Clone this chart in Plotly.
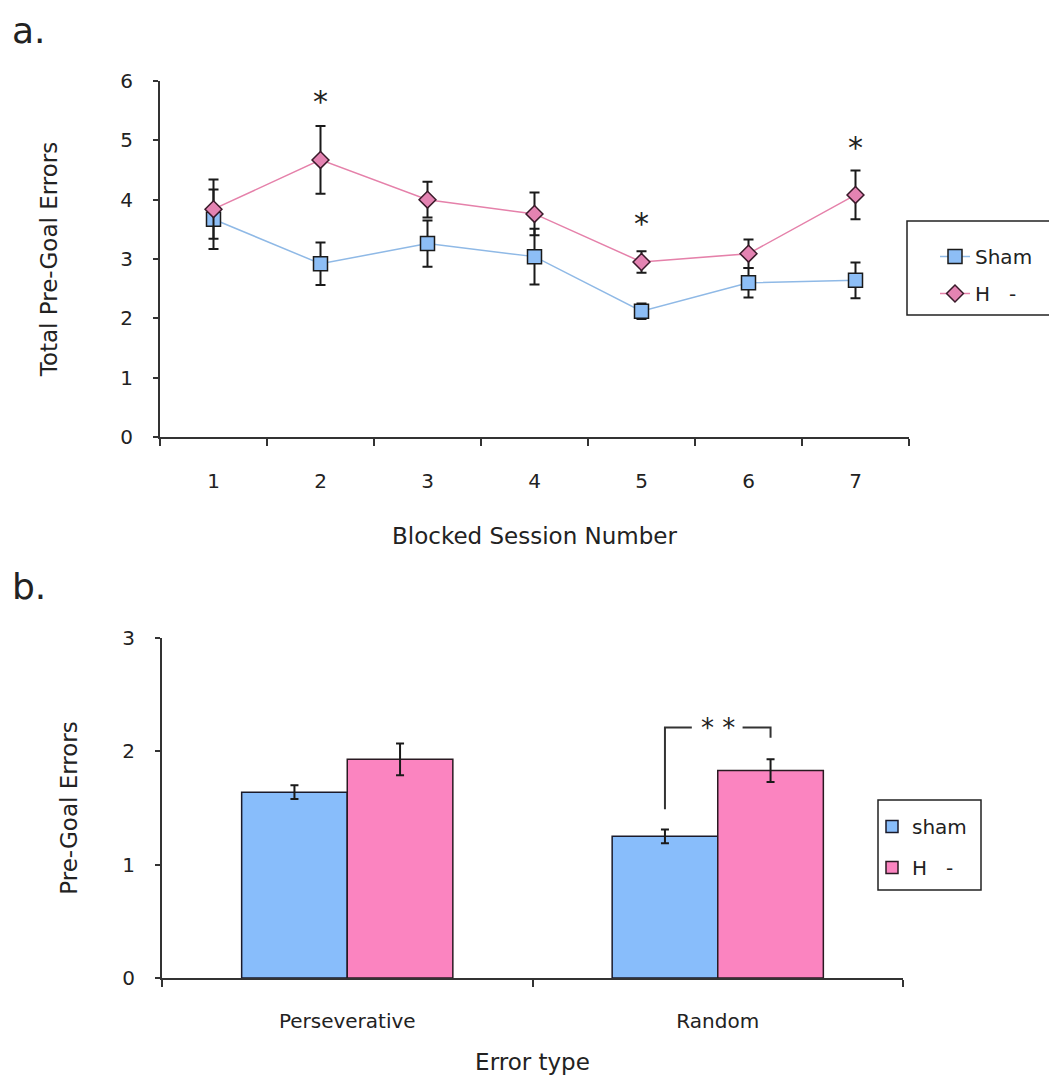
import plotly.graph_objects as go

# ---- Data: panel a ----
sessions = ["1", "2", "3", "4", "5", "6", "7"]
sham_mean = [3.67, 2.92, 3.26, 3.04, 2.12, 2.60, 2.64]
sham_sem = [0.50, 0.36, 0.39, 0.47, 0.13, 0.25, 0.30]
hminus_mean = [3.84, 4.67, 4.00, 3.76, 2.95, 3.09, 4.08]
hminus_sem = [0.50, 0.57, 0.30, 0.36, 0.18, 0.24, 0.41]
star_sessions = ["2", "5", "7"]
star_levels = [5.65, 3.60, 4.88]

# ---- Data: panel b ----
error_types = ["Perseverative", "Random"]
sham_bar = [1.64, 1.25]
sham_bar_sem = [0.06, 0.06]
hminus_bar = [1.93, 1.83]
hminus_bar_sem = [0.14, 0.10]

W, H = 1057, 1082
OFF = 8  # page body margin
FONT = "DejaVu Sans"
TXT = "#222222"
AX = "#333333"

def px_x(p):
    return (p - OFF) / W

def px_y(p):
    return 1 - (p - OFF) / H

fig = go.Figure()

fig.add_trace(go.Scatter(
    x=sessions, y=sham_mean, name="Sham", mode="lines+markers",
    line=dict(color="#8FB9E6", width=1.5),
    marker=dict(symbol="square", size=14, color="#8DBEF6",
                line=dict(color="#1a1a1a", width=1.5)),
    error_y=dict(type="data", array=sham_sem, color="#1a1a1a", thickness=2, width=5),
    xaxis="x", yaxis="y", legend="legend", legendgroup="a1",
))
fig.add_trace(go.Scatter(
    x=sessions, y=hminus_mean, name="H   -", mode="lines+markers",
    line=dict(color="#E581AA", width=1.5),
    marker=dict(symbol="diamond", size=13, color="#E483B2",
                line=dict(color="#3a1a2a", width=1.5)),
    error_y=dict(type="data", array=hminus_sem, color="#1a1a1a", thickness=2, width=5),
    xaxis="x", yaxis="y", legend="legend", legendgroup="a2",
))

fig.add_trace(go.Bar(
    x=error_types, y=sham_bar, name="sham",
    marker=dict(color="#88BDFB", line=dict(color="#1a1a2a", width=1.5)),
    error_y=dict(type="data", array=sham_bar_sem, color="#1a1a1a", thickness=2, width=4),
    xaxis="x2", yaxis="y2", legend="legend2", legendgroup="b1",
))
fig.add_trace(go.Bar(
    x=error_types, y=hminus_bar, name="H   -",
    marker=dict(color="#FB84C0", line=dict(color="#2a1a22", width=1.5)),
    error_y=dict(type="data", array=hminus_bar_sem, color="#1a1a1a", thickness=2, width=4),
    xaxis="x2", yaxis="y2", legend="legend2", legendgroup="b2",
))

annotations = []
for s, lv in zip(star_sessions, star_levels):
    annotations.append(dict(x=sessions.index(s), y=lv, xref="x", yref="y", text="*",
                            showarrow=False, yanchor="middle",
                            font=dict(family=FONT, size=30, color=TXT)))

# significance bracket for Random
bw = (1 - 0.43) / 2
annotations.append(dict(x=1, y=2.21, xref="x2", yref="y2", text="* *", showarrow=False,
                        font=dict(family=FONT, size=26, color=TXT), yanchor="middle"))
shapes = [
    dict(type="path", xref="x2", yref="y2",
         path=f"M {1 - bw/2},1.49 L {1 - bw/2},2.21 L 0.93,2.21",
         line=dict(color=AX, width=2)),
    dict(type="path", xref="x2", yref="y2",
         path=f"M 1.067,2.21 L {1 + bw/2},2.21 L {1 + bw/2},2.12",
         line=dict(color=AX, width=2)),
    # legend frames
    dict(type="rect", xref="paper", yref="paper",
         x0=px_x(907), x1=px_x(1055), y0=px_y(315), y1=px_y(221),
         line=dict(color="#222", width=1.5), fillcolor="rgba(0,0,0,0)"),
    dict(type="rect", xref="paper", yref="paper",
         x0=px_x(878), x1=px_x(981), y0=px_y(890), y1=px_y(800),
         line=dict(color="#222", width=1.5), fillcolor="rgba(0,0,0,0)"),
]

annotations += [
    dict(x=px_x(10), y=1.0, xref="paper", yref="paper", text="a.", showarrow=False,
         xanchor="left", yanchor="top", font=dict(family=FONT, size=36, color=TXT)),
    dict(x=px_x(10), y=px_y(586), xref="paper", yref="paper", text="b.", showarrow=False,
         xanchor="left", yanchor="middle", font=dict(family=FONT, size=36, color=TXT)),
]

axis_common = dict(showline=True, linecolor=AX, linewidth=2, ticks="outside",
                   tickcolor=AX, tickwidth=2, showgrid=False, zeroline=False,
                   automargin=False)
TICKF = dict(family=FONT, size=20, color=TXT)
TITF = dict(family=FONT, size=23, color=TXT)

fig.update_layout(
    width=W, height=H, margin=dict(l=0, r=0, t=0, b=0, autoexpand=False),
    paper_bgcolor="white", plot_bgcolor="white",
    font=dict(family=FONT, color=TXT),
    barmode="group", bargap=0.43, bargroupgap=0,
    xaxis=dict(**axis_common, domain=[px_x(160), px_x(909)], anchor="y",
               type="category", range=[-0.5, 6.5], tickson="boundaries", ticklen=7,
               ticklabelstandoff=25, tickfont=TICKF,
               title=dict(text="Blocked Session Number", standoff=36, font=TITF)),
    yaxis=dict(**axis_common, domain=[px_y(437), px_y(81)], anchor="x",
               range=[0, 6], tickvals=[0, 1, 2, 3, 4, 5, 6], ticklen=5,
               ticklabelstandoff=16, tickfont=TICKF,
               title=dict(text="Total Pre-Goal Errors", standoff=56, font=TITF)),
    xaxis2=dict(**axis_common, domain=[px_x(162), px_x(903)], anchor="y2",
                type="category", range=[-0.5, 1.5], tickson="boundaries", ticklen=7,
                ticklabelstandoff=24, tickfont=TICKF,
                title=dict(text="Error type", standoff=22, font=TITF)),
    yaxis2=dict(**axis_common, domain=[px_y(978), px_y(638)], anchor="x2",
                range=[0, 3], tickvals=[0, 1, 2, 3], ticklen=5,
                ticklabelstandoff=16, tickfont=TICKF,
                title=dict(text="Pre-Goal Errors", standoff=38, font=TITF)),
    legend=dict(x=px_x(935), y=px_y(237), xanchor="left", yanchor="top",
                borderwidth=0, bgcolor="rgba(0,0,0,0)",
                font=dict(family=FONT, size=20, color=TXT), tracegroupgap=8,
                itemwidth=30),
    legend2=dict(x=px_x(872), y=px_y(807), xanchor="left", yanchor="top",
                 borderwidth=0, bgcolor="rgba(0,0,0,0)",
                 font=dict(family=FONT, size=20, color=TXT), tracegroupgap=12,
                 itemwidth=30),
    annotations=annotations, shapes=shapes, showlegend=True,
)

fig.write_html("out.html")
